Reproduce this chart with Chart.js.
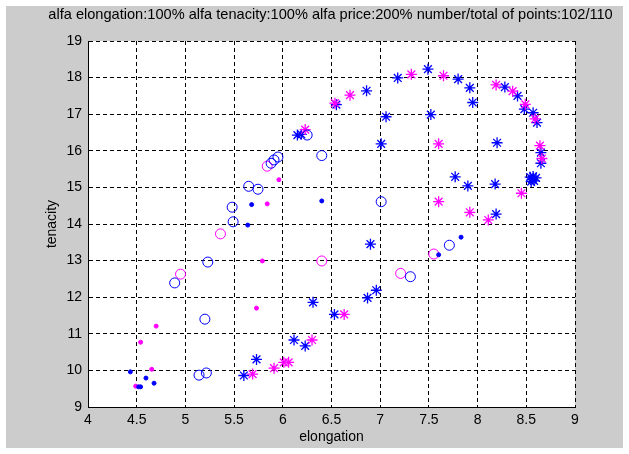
<!DOCTYPE html>
<html lang="en">
<head>
    <meta charset="UTF-8">
    <title>elongation vs tenacity</title>
    <script src="https://cdn.jsdelivr.net/npm/chart.js"></script>
    <style>
        body { margin: 0; background: #ffffff; }
        #wrap { width: 629px; height: 454px; }
    </style>
</head>
<body>
    <div id="wrap">
        <canvas id="myChart" width="629" height="454"></canvas>
    </div>

    <script>
        // tick labels
        const xTicks = [4, 4.5, 5, 5.5, 6, 6.5, 7, 7.5, 8, 8.5, 9];
        const yTicks = [9, 10, 11, 12, 13, 14, 15, 16, 17, 18, 19];

        const titleText = 'alfa elongation:100% alfa tenacity:100% alfa price:200% number/total of points:102/110';

        // series: [elongation, tenacity]
        const blueStars = [
            [5.60, 9.86], [5.73, 10.30], [6.115, 10.83], [6.23, 10.67], [6.31, 11.86],
            [6.53, 11.53], [6.87, 11.98], [6.96, 12.19], [6.90, 13.45], [6.15, 16.43],
            [6.19, 16.45], [6.55, 17.26], [6.86, 17.64], [7.06, 16.93], [7.01, 16.19],
            [7.18, 17.99], [7.49, 18.23], [7.52, 16.99], [7.80, 17.96], [7.92, 17.72],
            [7.95, 17.32], [8.20, 16.22], [8.28, 17.74], [8.41, 17.50], [8.48, 17.14],
            [8.57, 17.04], [8.61, 16.77], [8.65, 15.95], [8.65, 15.66], [7.77, 15.29],
            [7.90, 15.04], [8.18, 15.09], [8.19, 14.27], [8.54, 15.28], [8.56, 15.22],
            [8.58, 15.18], [8.60, 15.26], [8.57, 15.30], [8.55, 15.16]
        ];
        const magentaStars = [
            [5.69, 9.90], [5.91, 10.06], [6.01, 10.22], [6.06, 10.22], [6.30, 10.83],
            [6.63, 11.53], [6.23, 16.58], [6.535, 17.30], [6.69, 17.52], [7.32, 18.09],
            [7.65, 18.05], [7.60, 16.19], [7.60, 14.61], [7.92, 14.32], [8.11, 14.11],
            [8.45, 14.84], [8.19, 17.80], [8.36, 17.63], [8.49, 17.27], [8.59, 16.87],
            [8.64, 16.14], [8.66, 15.79]
        ];
        const blueCircles = [
            [5.14, 9.87], [5.215, 9.93], [5.20, 11.40], [4.89, 12.39], [5.23, 12.96],
            [5.49, 14.06], [5.48, 14.46], [5.65, 15.03], [5.745, 14.95], [5.88, 15.66],
            [5.91, 15.75], [5.95, 15.83], [6.25, 16.43], [6.40, 15.87], [7.01, 14.61],
            [7.71, 13.42], [7.31, 12.56]
        ];
        const magentaCircles = [
            [4.95, 12.63], [5.36, 13.73], [5.84, 15.58], [6.40, 12.99], [7.21, 12.65],
            [7.55, 13.18]
        ];
        const blueDots = [
            [4.435, 9.96], [4.595, 9.79], [4.678, 9.65], [4.52, 9.55], [4.54, 9.55],
            [5.64, 13.97], [5.68, 14.53], [6.40, 14.63], [7.60, 13.16], [7.83, 13.64]
        ];
        const magentaDots = [
            [4.49, 9.57], [4.654, 10.03], [4.54, 10.77], [4.70, 11.21], [5.73, 11.70],
            [5.79, 12.99], [5.84, 14.55], [5.96, 15.21]
        ];

        const BLUE = 'rgb(0,0,255)';
        const MAGENTA = 'rgb(255,0,255)';

        function pts(arr) {
            return arr.map(p => ({ x: p[0], y: p[1] }));
        }

        function series(arr, style, color, radius, filled) {
            return {
                data: pts(arr),
                pointStyle: style,
                pointRadius: radius,
                pointHoverRadius: radius,
                borderColor: color,
                backgroundColor: filled ? color : 'rgba(0,0,0,0)',
                pointBorderWidth: style === 'star' ? 1.3 : 1,
                showLine: false
            };
        }

        const fam = 'Liberation Sans, Arial, sans-serif';
        const tickFont = { family: fam, size: 14 };

        // gray figure background, white axes box, and the title line on top
        const figureBg = {
            id: 'figureBg',
            beforeDraw(chart) {
                const c = chart.ctx;
                const a = chart.chartArea;
                c.save();
                c.fillStyle = '#ffffff';
                c.fillRect(0, 0, chart.width, chart.height);
                c.fillStyle = '#cccccc';
                c.fillRect(6, 6, chart.width - 12, chart.height - 12);
                c.fillStyle = '#ffffff';
                c.fillRect(a.left, a.top, a.right - a.left, a.bottom - a.top);
                c.restore();
            },
            afterDraw(chart) {
                const c = chart.ctx;
                const a = chart.chartArea;
                c.save();
                c.font = '14.6px ' + fam;
                c.fillStyle = '#000';
                c.textAlign = 'center';
                c.textBaseline = 'middle';
                c.fillText(titleText, (a.left + a.right) / 2 - 1, 15);
                c.restore();
            }
        };

        const ctx = document.getElementById('myChart').getContext('2d');
        const myChart = new Chart(ctx, {
            type: 'scatter',
            data: {
                datasets: [
                    series(blueDots, 'circle', BLUE, 2, true),
                    series(magentaDots, 'circle', MAGENTA, 2, true),
                    series(blueCircles, 'circle', BLUE, 5, false),
                    series(magentaCircles, 'circle', MAGENTA, 5, false),
                    series(magentaStars, 'star', MAGENTA, 5.5, false),
                    series(blueStars, 'star', BLUE, 5.5, false)
                ]
            },
            plugins: [figureBg],
            options: {
                responsive: false,
                animation: false,
                devicePixelRatio: 1,
                layout: { padding: { left: 6, right: 54, top: 41, bottom: 6 } },
                plugins: {
                    legend: { display: false },
                    tooltip: { enabled: false },
                    title: { display: false }
                },
                scales: {
                    x: {
                        type: 'linear',
                        min: 4,
                        max: 9,
                        afterBuildTicks: s => { s.ticks = xTicks.map(v => ({ value: v })); },
                        afterFit: s => { s.height = 41; },
                        ticks: {
                            color: '#000',
                            font: tickFont,
                            padding: 5,
                            maxRotation: 0,
                            autoSkip: false,
                            callback: v => String(v)
                        },
                        grid: { color: '#000', lineWidth: 1, drawTicks: false },
                        border: { display: true, color: '#000', width: 1, dash: [4, 3] },
                        title: {
                            display: true,
                            text: 'elongation',
                            color: '#000',
                            font: tickFont,
                            padding: { top: 0, bottom: 2 }
                        }
                    },
                    y: {
                        type: 'linear',
                        min: 9,
                        max: 19,
                        afterBuildTicks: s => { s.ticks = yTicks.map(v => ({ value: v })); },
                        afterFit: s => { s.width = 82; },
                        ticks: {
                            color: '#000',
                            font: tickFont,
                            padding: 6,
                            autoSkip: false,
                            callback: v => String(v)
                        },
                        grid: { color: '#000', lineWidth: 1, drawTicks: false },
                        border: { display: true, color: '#000', width: 1, dash: [4, 3] },
                        title: {
                            display: true,
                            text: 'tenacity',
                            color: '#000',
                            font: tickFont,
                            padding: { top: 38, bottom: 0 }
                        }
                    }
                }
            }
        });
    </script>
</body>
</html>
